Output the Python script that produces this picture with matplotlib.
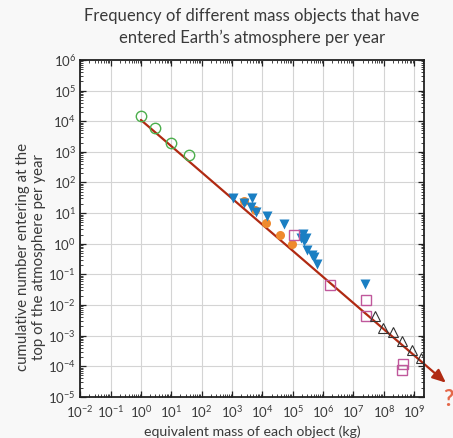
import matplotlib
matplotlib.use("Agg")
import matplotlib.pyplot as plt
from matplotlib.ticker import LogLocator, NullFormatter

plt.rcParams["font.family"] = ["Lato", "DejaVu Sans"]
plt.rcParams["mathtext.fontset"] = "custom"
plt.rcParams["mathtext.rm"] = "Lato"
plt.rcParams["mathtext.it"] = "Lato:italic"
plt.rcParams["mathtext.bf"] = "Lato:bold"

# data (mass in kg, cumulative number per year)
green_mass = [1.0, 3.0, 10.0, 39.0]
green_n = [1.5e4, 5.9e3, 2.0e3, 7.8e2]

blue_mass = [1.1e3, 2.4e3, 4.7e3, 4.2e3, 6.0e3, 1.45e4, 5.2e4, 2.1e5, 1.9e5,
             2.7e5, 2.3e5, 3.0e5, 4.4e5, 5.0e5, 6.4e5, 2.4e7]
blue_n = [31, 21, 32, 16, 11, 7.8, 4.4, 2.1, 1.5, 1.5, 1.2, 0.63, 0.44, 0.38,
          0.21, 0.05]

orange_mass = [2.5e3, 5.6e3, 1.35e4, 3.8e4, 9.3e4]
orange_n = [25, 13, 4.9, 1.96, 0.98]

square_mass = [1.1e5, 1.7e6, 2.6e7, 2.6e7, 4.4e8, 3.9e8]
square_n = [1.96, 0.044, 0.015, 4.3e-3, 1.2e-4, 7.4e-5]

tri_mass = [5e7, 9.5e7, 2e8, 4.1e8, 8.2e8, 1.7e9]
tri_n = [4.5e-3, 1.8e-3, 1.3e-3, 6.6e-4, 3.5e-4, 1.9e-4]

# power-law trend: start and arrow tip
trend_mass = [1.0, 1.1e10]
trend_n = [1.1e4, 2.9e-5]

TEXT = "#3a3a3a"

fig = plt.figure(figsize=(4.53, 4.38), dpi=100, facecolor="#f8f8f8")
ax = fig.add_axes([0.177, 0.094, 0.759, 0.769])
ax.set_facecolor("white")
ax.set_xscale("log")
ax.set_yscale("log")
ax.set_xlim(1e-2, 2.1e9)
ax.set_ylim(1e-5, 1e6)

ax.grid(True, which="major", color="#d4d4d4", lw=0.8)
ax.set_axisbelow(True)

ax.annotate("", xy=(trend_mass[1], trend_n[1]), xytext=(trend_mass[0], trend_n[0]),
            xycoords="data", annotation_clip=False,
            arrowprops=dict(arrowstyle="-|>,head_length=0.8,head_width=0.35",
                            color="#b02a12", lw=1.6, shrinkA=0, shrinkB=0),
            zorder=2)

ax.plot(green_mass, green_n, "o", ms=7.5, mfc="none", mec="#4cae4c", mew=1.0, zorder=3)
ax.plot(orange_mass, orange_n, "o", ms=6.5, color="#ef8a2e", mec="none", zorder=3)
ax.plot(blue_mass, blue_n, "v", ms=7, color="#1a7fc3", mec="none", zorder=3)
ax.plot(square_mass, square_n, "s", ms=6.5, mfc="none", mec="#c0589c", mew=1.0, zorder=4)
ax.plot(tri_mass, tri_n, "^", ms=6.5, mfc="none", mec="#333333", mew=0.8, zorder=4)

fig.text(448 / 453, 1 - 399 / 438, "?", color="#e4684a", fontsize=16,
         fontweight="bold", ha="center", va="center")

for axis in (ax.xaxis, ax.yaxis):
    axis.set_major_locator(LogLocator(base=10, numticks=30))
    axis.set_minor_locator(LogLocator(base=10, subs=range(2, 10), numticks=30))
    axis.set_minor_formatter(NullFormatter())
ax.tick_params(which="both", direction="in", top=True, right=True,
               labelsize=9.5, labelcolor=TEXT, color="#222222")
ax.tick_params(which="major", length=4, width=0.9)
ax.tick_params(axis="x", which="major", pad=5)
ax.tick_params(axis="y", which="major", pad=3)
ax.tick_params(which="minor", length=2.5, width=0.6)
for s in ax.spines.values():
    s.set_linewidth(1.3)
    s.set_color("#222222")

ax.set_xlabel("equivalent mass of each object (kg)", fontsize=10.2, color=TEXT,
              labelpad=4)
ax.set_ylabel("cumulative number entering at the\ntop of the atmosphere per year",
              fontsize=10.8, color=TEXT, linespacing=1.15)
ax.yaxis.set_label_coords(-0.1, 0.415)
ax.set_title("Frequency of different mass objects that have\n"
             "entered Earth\u2019s atmosphere per year",
             fontsize=12, color=TEXT, pad=12, linespacing=1.45)

fig.savefig("out.png", dpi=100, facecolor=fig.get_facecolor())
